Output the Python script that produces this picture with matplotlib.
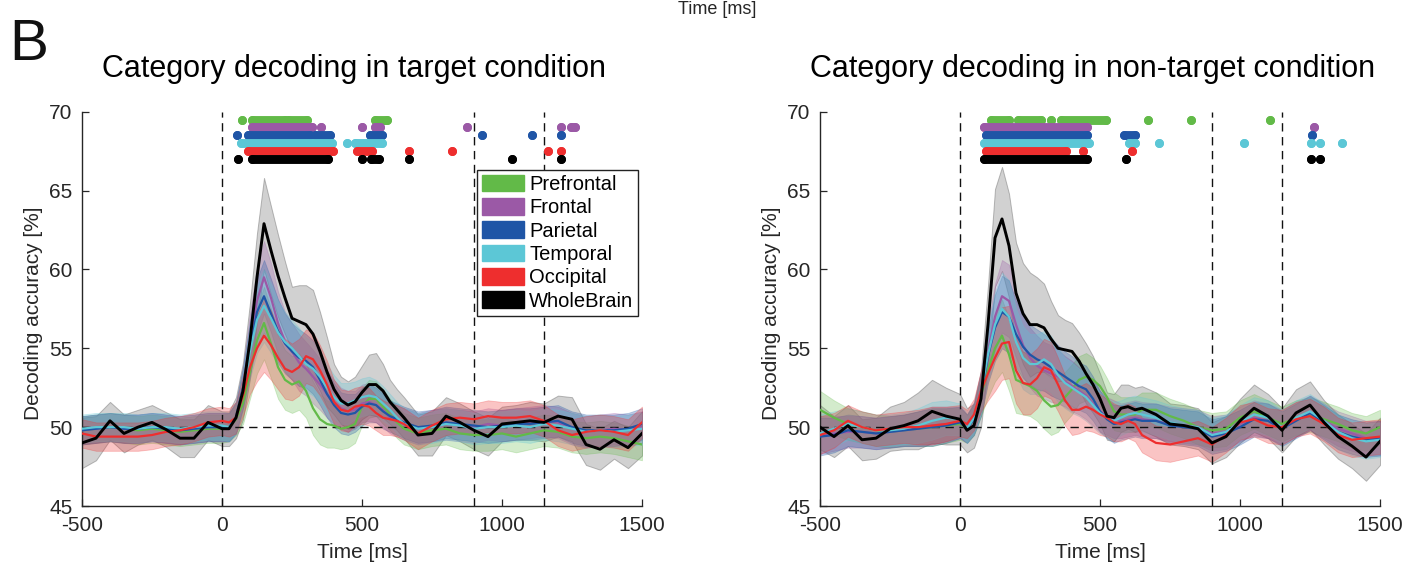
import numpy as np
import matplotlib
matplotlib.use('Agg')
import matplotlib.pyplot as plt
from matplotlib.patches import Patch

plt.rcParams['font.family'] = ['Liberation Sans', 'DejaVu Sans']

# ---------------- data ----------------
time_ms = [-500, -450, -400, -350, -300, -250, -200, -150, -100, -50,
           0, 25, 50, 75, 100, 125, 150, 175, 200, 225, 250, 275, 300, 325, 350,
           375, 400, 425, 450, 475, 500, 525, 550, 575, 600, 625, 650,
           700, 750, 800, 850, 900, 950, 1000, 1050, 1100, 1150, 1200, 1250,
           1300, 1350, 1400, 1450, 1500]

regions = ['Prefrontal', 'Frontal', 'Parietal', 'Temporal', 'Occipital', 'WholeBrain']
region_colors = ['#62BA48', '#9B59A6', '#1F55A6', '#5CC7D6', '#EE2E2E', '#000000']

# --- target condition (left) ---
tgt_prefrontal = [49.8, 49.9, 50.0, 49.9, 49.8, 49.9, 49.8, 49.7, 49.8, 49.9,
                  49.9, 50.0, 50.5, 51.5, 53.5, 55.5, 56.6, 55.3, 53.8, 53.0, 52.7, 52.9, 52.3, 51.2,
                  50.5, 50.2, 50.1, 49.9, 50.0, 50.2, 51.3, 51.8, 51.8, 51.3, 50.8, 50.3, 49.9,
                  49.6, 49.8, 49.9, 49.6, 49.5, 49.5, 49.6, 49.4, 49.6, 49.8, 49.7, 49.4, 49.3,
                  49.4, 49.3, 49.1, 48.9]
tgt_frontal = [49.8, 49.9, 50.0, 49.9, 49.9, 50.0, 49.9, 49.8, 49.9, 50.0,
               50.0, 50.0, 50.6, 52.5, 55.5, 58.0, 59.5, 58.2, 56.6, 55.4, 54.8, 54.1, 53.7, 53.2,
               52.7, 52.1, 51.6, 51.2, 51.0, 51.1, 51.5, 51.6, 51.4, 51.1, 50.6, 50.4, 50.2,
               49.9, 50.1, 50.2, 50.1, 50.0, 50.2, 50.1, 50.2, 50.3, 50.4, 50.3, 49.9, 49.7,
               49.8, 49.9, 49.8, 50.0]
tgt_parietal = [49.8, 49.9, 50.0, 49.9, 49.9, 50.0, 49.9, 49.8, 49.9, 50.0,
                50.0, 50.0, 50.6, 52.5, 55.0, 57.3, 58.3, 57.2, 56.1, 55.3, 54.8, 54.4, 54.2, 53.8,
                53.0, 52.1, 51.4, 50.9, 50.8, 50.9, 51.3, 51.5, 51.4, 51.0, 50.7, 50.5, 50.3,
                50.0, 50.1, 50.3, 50.2, 50.1, 50.0, 50.1, 50.2, 50.2, 50.3, 50.4, 50.0, 49.8,
                49.8, 49.8, 49.9, 50.2]
tgt_temporal = [49.9, 50.0, 50.0, 50.0, 49.9, 50.0, 50.0, 49.9, 50.0, 50.1,
                50.1, 50.0, 50.6, 52.3, 54.8, 56.8, 57.7, 56.9, 56.0, 55.4, 55.0, 54.5, 54.0, 53.7,
                53.2, 52.5, 51.9, 51.5, 51.5, 51.7, 51.9, 52.0, 51.9, 51.5, 51.1, 50.6, 50.2,
                49.9, 50.0, 50.2, 50.1, 49.9, 50.0, 50.0, 50.1, 50.0, 50.2, 50.1, 49.9, 49.7,
                49.8, 49.7, 49.8, 49.9]
tgt_occipital = [49.6, 49.4, 49.4, 49.4, 49.4, 49.5, 49.7, 49.8, 50.0, 50.3,
                 50.4, 50.3, 50.6, 52.0, 53.8, 55.0, 55.8, 55.2, 54.4, 53.7, 53.5, 53.8, 54.5, 54.3,
                 53.6, 52.7, 51.6, 51.1, 51.0, 51.3, 51.4, 51.3, 50.9, 50.6, 50.5, 50.4, 50.2,
                 49.6, 50.1, 50.5, 50.6, 50.5, 50.7, 50.6, 50.6, 50.7, 50.4, 49.8, 49.5, 49.7,
                 49.8, 49.7, 49.5, 50.3]
tgt_wholebrain = [49.0, 49.3, 50.4, 49.6, 50.0, 50.3, 49.85, 49.3, 49.3, 50.3,
                  49.9, 49.9, 50.6, 52.3, 55.5, 59.5, 62.9, 61.2, 59.6, 58.2, 56.9, 56.7, 56.5, 55.9,
                  54.8, 53.5, 52.4, 51.7, 51.4, 51.6, 52.2, 52.7, 52.7, 52.3, 51.6, 51.1, 50.6,
                  49.5, 49.6, 50.7, 50.3, 49.8, 49.4, 50.2, 50.3, 50.4, 50.3, 50.7, 50.5, 48.9,
                  48.6, 49.2, 48.7, 49.6]
tgt_err_regions = [0.9, 0.9, 0.9, 0.9, 0.9, 0.9, 0.9, 0.9, 0.9, 0.9,
                   0.9, 0.9, 1.0, 1.3, 1.7, 2.1, 2.3, 2.2, 2.0, 1.9, 1.8, 1.8, 1.7, 1.7,
                   1.6, 1.5, 1.4, 1.3, 1.3, 1.2, 1.2, 1.2, 1.1, 1.1, 1.0, 1.0, 1.0,
                   1.0, 1.0, 1.0, 1.0, 1.0, 1.0, 1.0, 1.0, 1.0, 1.0, 1.0, 1.0, 1.0,
                   1.0, 1.0, 1.0, 1.0]
tgt_err_wholebrain = [1.6, 1.4, 1.2, 1.2, 1.1, 1.1, 1.1, 1.2, 1.2, 1.1,
                      1.1, 1.1, 1.3, 1.8, 2.4, 2.8, 2.9, 2.8, 2.6, 2.3, 2.0, 2.3, 2.5, 2.8,
                      2.5, 2.2, 1.6, 1.5, 1.5, 1.6, 1.7, 1.9, 2.0, 1.7, 1.4, 1.3, 1.3,
                      1.3, 1.4, 1.2, 1.2, 1.2, 1.2, 1.1, 1.1, 1.2, 1.2, 1.3, 1.4, 1.3,
                      1.3, 1.2, 1.3, 1.4]

# --- non-target condition (right) ---
ntg_prefrontal = [51.1, 50.6, 50.2, 50.0, 49.8, 49.7, 49.8, 49.9, 50.0, 50.1,
                  50.2, 49.9, 50.5, 52.0, 53.6, 55.0, 55.8, 54.6, 53.0, 52.8, 52.6, 52.3, 51.7, 51.3,
                  51.4, 51.9, 52.4, 53.0, 53.2, 53.0, 52.6, 51.9, 51.0, 50.8, 50.8, 50.8, 51.1,
                  51.1, 50.7, 50.4, 50.0, 49.8, 49.9, 50.6, 51.0, 50.6, 50.2, 50.6, 50.8, 50.5,
                  50.2, 49.8, 49.6, 50.0]
ntg_frontal = [49.5, 49.6, 49.7, 49.7, 49.6, 49.7, 49.8, 49.9, 50.1, 50.2,
               50.3, 49.9, 50.6, 52.3, 54.8, 57.0, 58.3, 58.0, 56.5, 55.2, 54.4, 53.9, 53.6, 53.4,
               53.2, 52.9, 52.6, 52.3, 52.0, 51.5, 51.0, 50.7, 50.5, 50.4, 50.5, 50.6, 50.5,
               50.4, 50.2, 50.1, 50.0, 49.6, 49.7, 50.2, 50.6, 50.4, 50.0, 50.5, 50.9, 50.4,
               49.9, 49.6, 49.3, 49.3]
ntg_parietal = [49.4, 49.5, 49.8, 49.7, 49.6, 49.7, 49.8, 49.9, 50.0, 50.1,
                50.3, 49.9, 50.5, 52.0, 54.5, 56.3, 57.3, 57.0, 55.9, 55.1, 54.6, 54.3, 54.1, 53.8,
                53.5, 53.2, 52.9, 52.6, 52.4, 51.8, 51.0, 50.5, 50.2, 50.3, 50.4, 50.5, 50.4,
                50.4, 50.1, 50.0, 49.9, 49.4, 49.6, 50.0, 50.5, 50.4, 49.9, 50.4, 50.9, 50.3,
                49.7, 49.4, 49.2, 49.3]
ntg_temporal = [49.6, 49.9, 50.2, 50.0, 49.8, 49.8, 49.9, 50.1, 50.4, 50.6,
                50.5, 49.9, 50.6, 52.2, 54.6, 56.5, 57.5, 57.0, 55.4, 54.4, 54.0, 54.0, 54.3, 54.0,
                53.3, 52.8, 52.5, 52.2, 51.9, 51.4, 50.9, 50.6, 50.4, 50.6, 50.8, 50.9, 50.8,
                50.6, 50.3, 50.1, 50.0, 49.5, 49.7, 50.3, 50.8, 50.6, 50.0, 50.6, 51.0, 50.4,
                49.7, 49.3, 49.1, 49.2]
ntg_occipital = [49.5, 49.8, 50.4, 50.0, 49.8, 49.9, 50.0, 50.0, 50.1, 50.2,
                 50.4, 50.2, 50.8, 52.3, 53.4, 54.4, 55.3, 55.4, 53.6, 52.8, 52.7, 53.1, 53.8, 53.6,
                 52.7, 51.7, 51.1, 51.1, 51.3, 51.1, 50.8, 50.6, 50.3, 50.2, 50.4, 50.2, 49.5,
                 49.0, 48.9, 49.1, 49.3, 48.9, 49.5, 50.3, 50.5, 50.1, 50.0, 50.5, 50.7, 50.2,
                 49.5, 49.2, 49.3, 49.4]
ntg_wholebrain = [50.0, 49.4, 50.1, 49.2, 49.3, 49.9, 50.1, 50.4, 51.0, 50.7,
                  50.5, 49.8, 50.1, 51.8, 56.5, 62.0, 63.2, 61.5, 58.5, 57.2, 56.5, 56.5, 56.3, 55.6,
                  55.0, 54.9, 54.8, 54.2, 53.4, 52.7, 51.8, 50.7, 50.6, 51.2, 51.3, 51.1, 51.2,
                  50.8, 50.2, 50.1, 49.9, 49.0, 49.4, 50.4, 51.2, 50.7, 49.8, 50.9, 51.4, 50.3,
                  49.4, 48.8, 48.1, 49.1]
ntg_err_regions = [1.2, 1.1, 1.0, 1.0, 1.0, 1.0, 1.0, 1.1, 1.2, 1.1,
                   1.0, 0.9, 1.0, 1.3, 1.7, 2.1, 2.3, 2.3, 2.1, 2.0, 1.9, 1.9, 1.8, 1.8,
                   1.7, 1.6, 1.6, 1.5, 1.5, 1.4, 1.3, 1.2, 1.2, 1.1, 1.1, 1.1, 1.1,
                   1.1, 1.1, 1.1, 1.1, 1.1, 1.1, 1.1, 1.1, 1.1, 1.1, 1.1, 1.1, 1.1,
                   1.1, 1.1, 1.1, 1.1]
ntg_err_wholebrain = [1.4, 1.3, 1.3, 1.3, 1.3, 1.4, 1.5, 1.8, 2.0, 1.8,
                      1.6, 1.4, 1.4, 1.8, 2.5, 3.1, 3.3, 3.3, 3.2, 3.2, 3.3, 3.0, 2.8, 2.4,
                      2.1, 1.9, 1.8, 1.8, 1.9, 1.8, 1.6, 1.5, 1.5, 1.5, 1.4, 1.4, 1.4,
                      1.4, 1.3, 1.3, 1.3, 1.3, 1.3, 1.4, 1.5, 1.4, 1.4, 1.5, 1.5, 1.4,
                      1.4, 1.4, 1.5, 1.5]

# significant time windows (start, end) in ms, per region
sig_rows_y = [69.5, 69.0, 68.5, 68.0, 67.5, 67.0]
tgt_sig = [
    [(70, 70), (106, 225), (237, 302), (546, 588)],
    [(106, 320), (353, 353), (501, 501), (546, 564), (874, 874), (1210, 1210), (1245, 1260)],
    [(55, 55), (94, 314), (332, 386), (528, 570), (927, 927), (1106, 1106), (1210, 1210)],
    [(67, 394), (445, 445), (475, 570)],
    [(94, 397), (481, 535), (669, 669), (823, 823), (1165, 1165), (1212, 1212)],
    [(58, 58), (106, 380), (501, 501), (531, 561), (669, 669), (1034, 1034), (1210, 1210)],
]
ntg_sig = [
    [(112, 174), (208, 290), (325, 325), (359, 523), (670, 670), (826, 826), (1106, 1106)],
    [(85, 455), (1263, 1263)],
    [(92, 455), (585, 626), (1256, 1256)],
    [(85, 462), (605, 626), (712, 712), (1014, 1014), (1254, 1254), (1286, 1286), (1366, 1366)],
    [(92, 379), (441, 441), (615, 615)],
    [(85, 455), (592, 592), (1254, 1254), (1286, 1286)],
]

event_lines_ms = [0, 900, 1150]
chance_level = 50
x_ticks = [-500, 0, 500, 1000, 1500]
y_ticks = [45, 50, 55, 60, 65, 70]

# ---------------- figure ----------------
W, H = 1421, 574
fig = plt.figure(figsize=(W / 100, H / 100), dpi=100)

ax_l = fig.add_axes([82 / W, 1 - 506 / H, 560 / W, (506 - 111.7) / H])
ax_r = fig.add_axes([820 / W, 1 - 506 / H, 560 / W, (506 - 111.7) / H])

t = np.array(time_ms, dtype=float)
text_col = '#262626'


def draw_panel(ax, means, err_regions, err_whole, sig):
    ax.set_xlim(-500, 1500)
    ax.set_ylim(45, 70)
    # bands: whole-brain gray first
    m = np.array(means[5]); e = np.array(err_whole)
    ax.fill_between(t, m - e, m + e, facecolor='#9a9a9a', alpha=0.45,
                    edgecolor='#6a6a6a', linewidth=0.7, zorder=1)
    for i in range(5):
        m = np.array(means[i]); e = np.array(err_regions)
        ax.fill_between(t, m - e, m + e, facecolor=region_colors[i], alpha=0.28,
                        edgecolor=region_colors[i], linewidth=0.6, zorder=1.2)
    # reference lines
    for xv in event_lines_ms:
        ax.axvline(xv, color='#111111', lw=1.0, ls=(0, (6, 4)), zorder=2)
    ax.axhline(chance_level, color='#111111', lw=1.0, ls=(0, (6, 4)), zorder=2)
    # mean lines
    for i in range(5):
        ax.plot(t, means[i], color=region_colors[i], lw=1.6, zorder=3)
    ax.plot(t, means[5], color='black', lw=2.1, zorder=4)
    # significance markers
    for i, wins in enumerate(sig):
        for s, e_ in wins:
            ax.plot([s, e_], [sig_rows_y[i], sig_rows_y[i]], color=region_colors[i],
                    lw=6.4, solid_capstyle='round', marker='o', ms=6.4,
                    markeredgewidth=0, zorder=5)
    # axes styling
    for sp in ['top', 'right']:
        ax.spines[sp].set_visible(False)
    for sp in ['left', 'bottom']:
        ax.spines[sp].set_color(text_col)
        ax.spines[sp].set_linewidth(1.0)
    ax.set_xticks(x_ticks)
    ax.set_xticklabels([str(v) for v in x_ticks])
    ax.set_yticks(y_ticks)
    ax.tick_params(direction='in', length=5, width=0.9, labelsize=15,
                   colors=text_col, pad=7)
    ax.set_xlabel('Time [ms]', fontsize=15, color=text_col)
    ax.xaxis.set_label_coords(0.5, -0.095)
    ax.set_ylabel('Decoding accuracy [%]', fontsize=15, color=text_col)
    ax.yaxis.set_label_coords(-0.07, 0.49)


draw_panel(ax_l, [tgt_prefrontal, tgt_frontal, tgt_parietal, tgt_temporal,
                  tgt_occipital, tgt_wholebrain], tgt_err_regions, tgt_err_wholebrain, tgt_sig)
draw_panel(ax_r, [ntg_prefrontal, ntg_frontal, ntg_parietal, ntg_temporal,
                  ntg_occipital, ntg_wholebrain], ntg_err_regions, ntg_err_wholebrain, ntg_sig)

handles = [Patch(facecolor=c, edgecolor=c) for c in region_colors]
leg = ax_l.legend(handles, regions, loc='upper left', bbox_to_anchor=(0.705, 0.853),
                  fontsize=14.5, frameon=True, fancybox=False, framealpha=1,
                  edgecolor='#222222', handlelength=2.1, handleheight=0.9,
                  handletextpad=0.25, labelspacing=0.2, borderpad=0.25,
                  borderaxespad=0.0)
leg.get_frame().set_linewidth(1.0)
leg.set_zorder(10)

fig.text(353.5 / W, 1 - 77 / H, 'Category decoding in target condition',
         ha='center', va='baseline', fontsize=22, color='black')
fig.text(1093 / W, 1 - 77 / H, 'Category decoding in non-target condition',
         ha='center', va='baseline', fontsize=22, color='black')
fig.text(9 / W, 1 - 60 / H, 'B', ha='left', va='baseline', fontsize=42, color='#111111')
fig.text(717 / W, 0.999, 'Time [ms]', ha='center', va='top', fontsize=13,
         color=text_col)

fig.savefig('out.png', dpi=100)
